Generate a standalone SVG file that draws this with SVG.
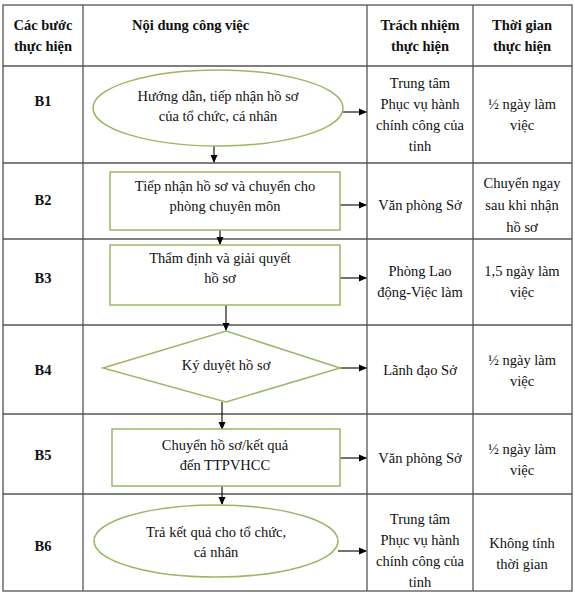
<svg xmlns="http://www.w3.org/2000/svg" width="575" height="597" viewBox="0 0 575 597">
<defs>
<marker id="ah" markerWidth="8" markerHeight="8" refX="7" refY="4" orient="auto" markerUnits="userSpaceOnUse">
<path d="M0,0.5 L8,4 L0,7.5 Z" fill="#000"/>
</marker>
<style>
.grid{stroke:#555;stroke-width:1.3;fill:none}
.shape{fill:#fff;stroke:#9bb864;stroke-width:1.5}
.t{font-family:"Liberation Serif","Times New Roman",serif;font-size:14.5px;fill:#111;text-anchor:middle}
.b{font-weight:bold}
.conn{stroke:#000;stroke-width:1.1;fill:none;marker-end:url(#ah)}
</style>
</defs>
<rect width="575" height="597" fill="#fff"/>
<g id="table">
<rect class="grid" x="3" y="5" width="569" height="586"/>
<line class="grid" x1="83" y1="5" x2="83" y2="591"/>
<line class="grid" x1="367" y1="5" x2="367" y2="591"/>
<line class="grid" x1="473" y1="5" x2="473" y2="591"/>
<line class="grid" x1="3" y1="66" x2="572" y2="66"/>
<line class="grid" x1="3" y1="163" x2="572" y2="163"/>
<line class="grid" x1="3" y1="239" x2="572" y2="239"/>
<line class="grid" x1="3" y1="325" x2="572" y2="325"/>
<line class="grid" x1="3" y1="414" x2="572" y2="414"/>
<line class="grid" x1="3" y1="494" x2="572" y2="494"/>
</g>
<g id="header">
<text class="t b" x="43" y="30">Các bước</text>
<text class="t b" x="43" y="51">thực hiện</text>
<text class="t b" x="132" y="30" style="text-anchor:start">Nội dung công việc</text>
<text class="t b" x="420" y="30">Trách nhiệm</text>
<text class="t b" x="420" y="51">thực hiện</text>
<text class="t b" x="522" y="30">Thời gian</text>
<text class="t b" x="522" y="51">thực hiện</text>
</g>
<g id="connectors">
<line class="conn" x1="214" y1="146" x2="214" y2="162"/>
<line class="conn" x1="343" y1="112" x2="366" y2="112"/>
<line class="conn" x1="220" y1="230" x2="220" y2="244"/>
<line class="conn" x1="340" y1="205" x2="366" y2="205"/>
<line class="conn" x1="226" y1="305" x2="226" y2="330"/>
<line class="conn" x1="340" y1="278" x2="366" y2="278"/>
<line class="conn" x1="222" y1="402" x2="222" y2="429"/>
<line class="conn" x1="340" y1="368" x2="366" y2="368"/>
<line class="conn" x1="222" y1="486" x2="222" y2="504"/>
<line class="conn" x1="340" y1="458" x2="366" y2="458"/>
<line class="conn" x1="338" y1="551" x2="366" y2="551"/>
</g>
<g id="B1">
<text class="t b" x="43" y="106">B1</text>
<ellipse class="shape" cx="218" cy="108" rx="125" ry="38"/>
<text class="t" x="218" y="101">Hướng dẫn, tiếp nhận hồ sơ</text>
<text class="t" x="218" y="121">của tổ chức, cá nhân</text>
<text class="t" x="420" y="88">Trung tâm</text>
<text class="t" x="420" y="109">Phục vụ hành</text>
<text class="t" x="420" y="130">chính công của</text>
<text class="t" x="420" y="151">tỉnh</text>
<text class="t" x="522" y="109">½ ngày làm</text>
<text class="t" x="522" y="130">việc</text>
</g>
<g id="B2">
<text class="t b" x="43" y="205">B2</text>
<rect class="shape" x="110" y="172" width="230" height="58"/>
<text class="t" x="225" y="191">Tiếp nhận hồ sơ và chuyển cho</text>
<text class="t" x="225" y="211">phòng chuyên môn</text>
<text class="t" x="420" y="210">Văn phòng Sở</text>
<text class="t" x="522" y="188">Chuyển ngay</text>
<text class="t" x="522" y="210">sau khi nhận</text>
<text class="t" x="522" y="232">hồ sơ</text>
</g>
<g id="B3">
<text class="t b" x="43" y="283">B3</text>
<rect class="shape" x="110" y="245" width="230" height="60"/>
<text class="t" x="220" y="263">Thẩm định và giải quyết</text>
<text class="t" x="220" y="283">hồ sơ</text>
<text class="t" x="420" y="276">Phòng Lao</text>
<text class="t" x="420" y="297">động-Việc làm</text>
<text class="t" x="522" y="276">1,5 ngày làm</text>
<text class="t" x="522" y="297">việc</text>
</g>
<g id="B4">
<text class="t b" x="43" y="375">B4</text>
<polygon class="shape" points="226,331 340,368 226,402 103,368"/>
<text class="t" x="226" y="370">Ký duyệt hồ sơ</text>
<text class="t" x="420" y="375">Lãnh đạo Sở</text>
<text class="t" x="522" y="365">½ ngày làm</text>
<text class="t" x="522" y="386">việc</text>
</g>
<g id="B5">
<text class="t b" x="43" y="460">B5</text>
<rect class="shape" x="112" y="429" width="228" height="57"/>
<text class="t" x="225" y="450">Chuyển hồ sơ/kết quả</text>
<text class="t" x="225" y="470">đến TTPVHCC</text>
<text class="t" x="420" y="463">Văn phòng Sở</text>
<text class="t" x="522" y="454">½ ngày làm</text>
<text class="t" x="522" y="475">việc</text>
</g>
<g id="B6">
<text class="t b" x="43" y="551">B6</text>
<ellipse class="shape" cx="216" cy="541" rx="122" ry="36"/>
<text class="t" x="216" y="537">Trả kết quả cho tổ chức,</text>
<text class="t" x="216" y="557">cá nhân</text>
<text class="t" x="420" y="524">Trung tâm</text>
<text class="t" x="420" y="545">Phục vụ hành</text>
<text class="t" x="420" y="566">chính công của</text>
<text class="t" x="420" y="587">tỉnh</text>
<text class="t" x="522" y="548">Không tính</text>
<text class="t" x="522" y="569">thời gian</text>
</g>
</svg>
